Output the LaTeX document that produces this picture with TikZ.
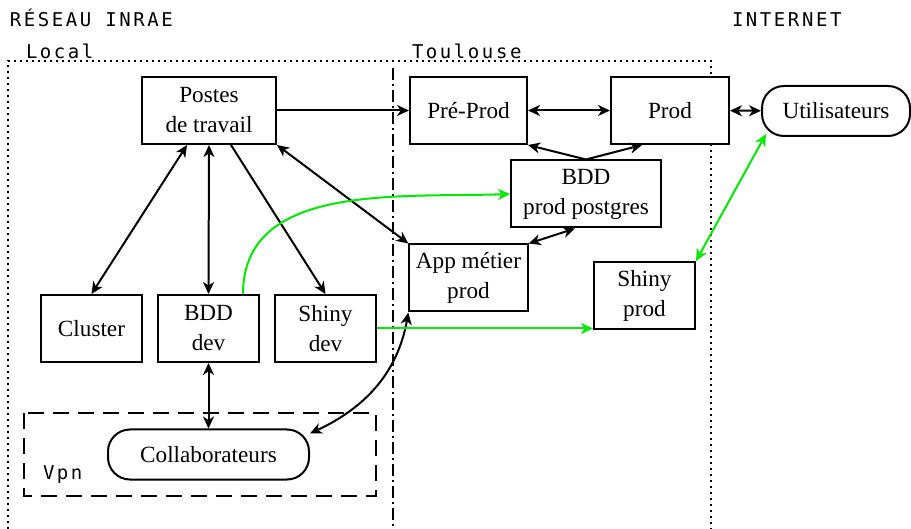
\documentclass[tikz,border=0pt]{standalone}
\usepackage{fontspec}
\setmainfont{LiberationSerif-Regular.ttf}
\newfontfamily\monolbl[LetterSpace=13.5]{DejaVu Sans Mono}
\usetikzlibrary{arrows.meta}
\definecolor{vert}{RGB}{0,235,0}
\tikzset{%
    every node/.style={font=\fontsize{11.6}{15}\selectfont},
    box/.style={rectangle, draw, fill=white, align=center,
        minimum height=33.5pt},
    rbox/.style={box, rounded corners=11pt, minimum height=25pt},
    zone/.style={font=\fontsize{9.5}{11}\monolbl, anchor=base west,
        inner sep=0pt},
    frame/.style={dash pattern=on 1.2pt off 1.8pt},
    split/.style={dash pattern=on 6pt off 2pt on 1pt off 2pt},
    vpnzone/.style={dash pattern=on 8pt off 4.5pt},
    >={Stealth[length=6pt, width=5.5pt, inset=1.8pt]}
}

\begin{document}
\begin{tikzpicture}[x=0.5pt, y=-0.5pt, line width=1pt]
  \useasboundingbox (0,0) rectangle (911,529);

  \draw [frame] (8,529) -- (8,61) -- (711,61) -- (711,529);
  \draw [split] (393,68) -- (393,529);
  \draw [vpnzone] (24,413) rectangle (376,496);

  \node (reseau) [zone] at (9,27) {RÉSEAU INRAE};
  \node (internet) [zone] at (731,27) {INTERNET};
  \node (local) [zone] at (25,59) {Local};
  \node (toulouse) [zone] at (411,59) {Toulouse};
  \node (vpn) [zone] at (42,480) {Vpn};

  \node (pst) [box, minimum width=67pt] at (209,110.5) {Postes\\de travail};
  \node (prep) [box, minimum width=58.5pt] at (468.5,110.5) {Pré-Prod};
  \node (prod) [box, minimum width=59pt] at (670,110.5) {Prod};
  \node (util) [rbox, minimum width=74pt] at (836,111) {Utilisateurs};
  \node (bddp) [box, minimum width=75pt] at (586,194) {BDD\\prod postgres};
  \node (app) [box, minimum width=58.5pt] at (468.5,278) {App métier\\prod};
  \node (shinyp) [box, minimum width=50.5pt] at (644.5,295.5) {Shiny\\prod};
  \node (clus) [box, minimum width=50.5pt] at (91.5,328.5) {Cluster};
  \node (bddd) [box, minimum width=50.5pt] at (208.5,328.5) {BDD\\dev};
  \node (shinyd) [box, minimum width=50.5pt] at (325.5,328.5) {Shiny\\dev};
  \node (collab) [rbox, minimum width=100.5pt] at (208.5,454.5) {Collaborateurs};

  \draw (pst) edge[->] (prep);
  \draw (prep) edge[<->] (prod);
  \draw (prod) edge[<->] (util);
  \draw (bddp.north) edge[->] (prep.south east);
  \draw (bddp.north) edge[->] ([xshift=-14pt]prod.south);
  \draw ([xshift=-5.5pt]bddp.south) edge[<->] (app.north east);
  \draw (pst.south east) edge[<->] (app.north west);
  \draw ([xshift=-11pt]pst.south) edge[<->] (clus.north);
  \draw (pst.south) edge[<->] (bddd.north);
  \draw ([xshift=11pt]pst.south) edge[->] (shinyd.north);
  \draw (bddd) edge[<->] (collab);
  \draw ([yshift=-2.5pt]collab.north east) edge[<->, out=25, in=-100] (app.south west);

  \draw [vert] ([xshift=-8.5pt]bddd.north east) edge[->, out=90, in=182] (bddp.west);
  \draw [vert] (shinyd.east) edge[->] (shinyd.east -| shinyp.west);
  \draw [vert] (shinyp.north east) edge[<->] ([shift={(2.5pt,1.5pt)}]util.south west);
\end{tikzpicture}
\end{document}
